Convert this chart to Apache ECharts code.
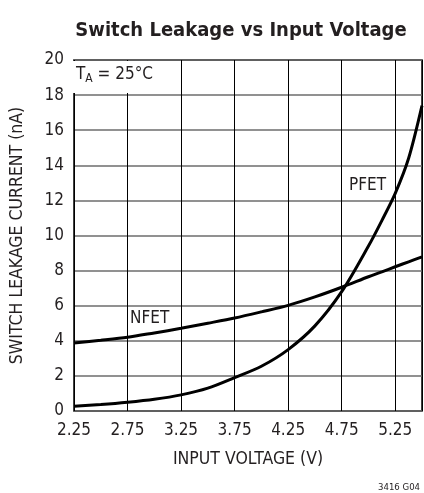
<!DOCTYPE html>
<html>
<head>
<meta charset="utf-8">
<script src="https://cdn.jsdelivr.net/npm/echarts@6/dist/echarts.min.js"></script>
<style>
html,body{margin:0;padding:0;background:#fff;}
#c{width:424px;height:493px;}
</style>
</head>
<body>
<div id="c"></div>
<script>
const voltage = [2.25, 2.5, 2.75, 3.0, 3.25, 3.5, 3.75, 4.0, 4.25, 4.5, 4.75, 5.0, 5.125, 5.25, 5.375, 5.5];
const nfet = [3.88, 4.03, 4.2, 4.45, 4.71, 5.0, 5.3, 5.65, 6.02, 6.5, 7.05, 7.65, 7.93, 8.22, 8.5, 8.78];
const pfet = [0.27, 0.37, 0.5, 0.67, 0.92, 1.3, 1.9, 2.55, 3.5, 4.85, 6.8, 9.4, 10.85, 12.4, 14.4, 17.4];
const xTicks = ['2.25', '2.75', '3.25', '3.75', '4.25', '4.75', '5.25'];
const yTicks = [0, 2, 4, 6, 8, 10, 12, 14, 16, 18, 20];

const FONT = '"Liberation Sans Narrow", "DejaVu Sans Condensed", "Roboto", sans-serif';
const chart = echarts.init(document.getElementById('c'), null, {renderer: 'canvas'});
const pair = a => voltage.map((v, i) => [v, a[i]]);

chart.setOption({
  animation: false,
  backgroundColor: '#fff',
  title: {
    text: 'Switch Leakage vs Input Voltage',
    left: 236, top: 16, textAlign: 'center',
    textStyle: {fontFamily: FONT, fontWeight: 'bold', fontSize: 20, color: '#231f20'}
  },
  grid: {left: 70, top: 60, right: 2, bottom: 82, show: true, borderColor: '#000', borderWidth: 1.5},
  xAxis: {
    type: 'value', min: 2.25, max: 5.5, interval: 0.5,
    name: 'INPUT VOLTAGE (V)', nameLocation: 'middle', nameGap: 39,
    nameTextStyle: {fontFamily: FONT, fontSize: 17.5, color: '#231f20'},
    axisLine: {show: false}, axisTick: {show: false},
    axisLabel: {
      fontFamily: FONT, fontSize: 17, color: '#231f20', margin: 11, showMaxLabel: false,
      formatter: v => { const s = v.toFixed(2); return xTicks.indexOf(s) >= 0 ? s : ''; }
    },
    splitLine: {show: true, lineStyle: {color: '#000', width: 1}}
  },
  yAxis: {
    type: 'value', min: 0, max: 20, interval: 2,
    name: 'SWITCH LEAKAGE CURRENT (nA)', nameLocation: 'middle', nameGap: 48,
    nameTextStyle: {fontFamily: FONT, fontSize: 17.5, color: '#231f20'},
    axisLine: {show: false}, axisTick: {show: false},
    axisLabel: {
      fontFamily: FONT, fontSize: 17, color: '#231f20', margin: 10,
      formatter: v => yTicks.indexOf(v) >= 0 ? String(v) : ''
    },
    splitLine: {show: true, lineStyle: {color: '#6d6d6d', width: 1.5}}
  },
  graphic: [
    {type: 'rect', left: 71, top: 61, shape: {width: 96, height: 32}, style: {fill: '#fff'}, z: 10},
    {type: 'text', left: 76, top: 66, z: 11, style: {
      text: '{m|T}{s|A}{m| = 25°C}',
      rich: {
        m: {fontFamily: FONT, fontSize: 17, fill: '#231f20'},
        s: {fontFamily: FONT, fontSize: 12, fill: '#231f20', verticalAlign: 'bottom', padding: [8, 0, 0, 0]}
      }
    }},
    {type: 'text', left: 130, top: 310, z: 11, style: {text: 'NFET', fontFamily: FONT, fontSize: 17, fill: '#231f20'}},
    {type: 'text', left: 349, top: 177, z: 11, style: {text: 'PFET', fontFamily: FONT, fontSize: 17, fill: '#231f20'}},
    {type: 'text', right: 4, bottom: 0, z: 11, style: {text: '3416 G04', fontFamily: FONT, fontSize: 9.5, fill: '#231f20'}}
  ],
  series: [
    {name: 'NFET', type: 'line', data: pair(nfet), smooth: 0.3, symbol: 'none',
     lineStyle: {color: '#000', width: 3}, z: 5},
    {name: 'PFET', type: 'line', data: pair(pfet), smooth: 0.3, symbol: 'none',
     lineStyle: {color: '#000', width: 3}, z: 5}
  ]
});
</script>
</body>
</html>
